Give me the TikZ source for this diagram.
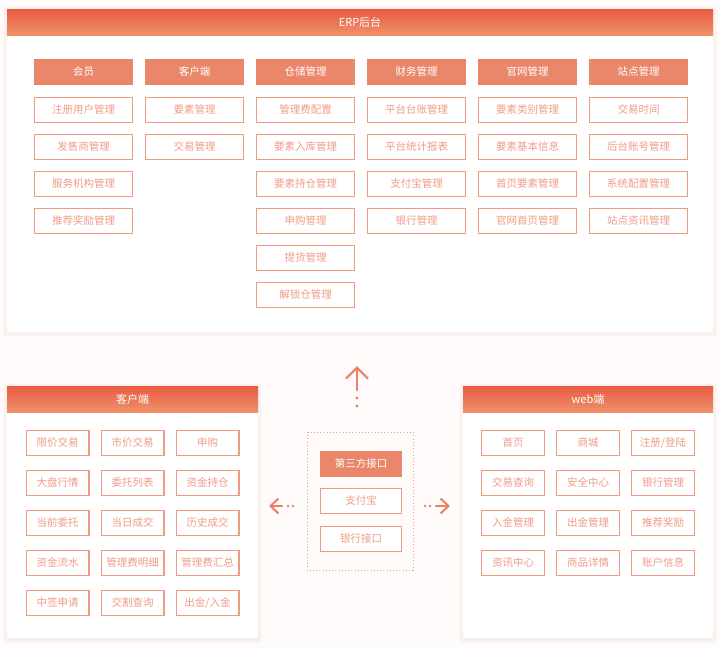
\documentclass[tikz,border=0pt]{standalone}
\usepackage{fontspec}
\setmainfont{Noto Sans CJK SC}
\usetikzlibrary{arrows.meta}
\definecolor{bgc}{HTML}{FEFBFA}
\definecolor{shc}{HTML}{F6EAE4}
\definecolor{toptc}{HTML}{E85B42}
\definecolor{botc}{HTML}{EF9169}
\definecolor{hdrc}{HTML}{EA866A}
\definecolor{boxc}{HTML}{F09A82}
\definecolor{txtc}{HTML}{EF9C88}
\definecolor{arrc}{HTML}{EC8062}
\tikzset{
  panel/.style={fill=white, draw=none},
  glow/.style={fill=shc, draw=none, opacity=0.22},
  hdr/.style={fill=hdrc, text=white, minimum width=99pt, minimum height=26pt, inner sep=0pt, text height=8.5pt, text depth=1.5pt, font=\fontsize{10.5}{12}\selectfont},
  item/.style={draw=boxc, line width=1.2pt, fill=white, text=txtc, minimum width=97.8pt, minimum height=24.8pt, inner sep=0pt, text height=8.5pt, text depth=1.5pt, font=\fontsize{10.5}{12}\selectfont},
  sitem/.style={item, minimum width=62.8pt},
  mitem/.style={item, minimum width=80.8pt},
  ptitle/.style={text=white, font=\fontsize{11}{13}\selectfont, inner sep=0pt},
  arr/.style={draw=arrc, line width=2.2pt, line cap=round},
  dotm/.style={fill=arrc, draw=none}
}
\newcommand{\softpanel}[4]{%
  \foreach \e in {4,3,2,1}{\fill[glow] ({#1-\e},{#2-\e+1}) rectangle ({#3+\e},{#4+\e+1});}
  \fill[panel] (#1,#2) rectangle (#3,#4);
}
\begin{document}
\begin{tikzpicture}[x=1pt, y=-1pt]
\useasboundingbox (0,0) rectangle (720,648);
\fill[bgc] (0,0) rectangle (720,648);
% ===== top panel =====
\softpanel{7}{9}{713}{332}
\shade[top color=toptc, bottom color=botc] (7,9) rectangle (713,35);
\node[ptitle] (erp) at (360,22) {ERP后台};
\foreach \i/\h in {1/会员,2/客户端,3/仓储管理,4/财务管理,5/官网管理,6/站点管理}{
  \node[hdr] (h\i) at ({83.5+111*(\i-1)},72) {\h};
}
\foreach \j/\t in {1/注册用户管理,2/发售商管理,3/服务机构管理,4/推荐奖励管理}
  \node[item] (a1r\j) at (83.5,{110+37*(\j-1)}) {\t};
\foreach \j/\t in {1/要素管理,2/交易管理}
  \node[item] (a2r\j) at (194.5,{110+37*(\j-1)}) {\t};
\foreach \j/\t in {1/管理费配置,2/要素入库管理,3/要素持仓管理,4/申购管理,5/提货管理,6/解锁仓管理}
  \node[item] (a3r\j) at (305.5,{110+37*(\j-1)}) {\t};
\foreach \j/\t in {1/平台台账管理,2/平台统计报表,3/支付宝管理,4/银行管理}
  \node[item] (a4r\j) at (416.5,{110+37*(\j-1)}) {\t};
\foreach \j/\t in {1/要素类别管理,2/要素基本信息,3/首页要素管理,4/官网首页管理}
  \node[item] (a5r\j) at (527.5,{110+37*(\j-1)}) {\t};
\foreach \j/\t in {1/交易时间,2/后台账号管理,3/系统配置管理,4/站点资讯管理}
  \node[item] (a6r\j) at (638.5,{110+37*(\j-1)}) {\t};
% ===== bottom left panel =====
\softpanel{7}{386}{258}{638}
\shade[top color=toptc, bottom color=botc] (7,386) rectangle (258,412);
\node[ptitle] (kh) at (132.5,399) {客户端};
\foreach \t [count=\k from 0] in {限价交易,市价交易,申购,大盘行情,委托列表,资金持仓,当前委托,当日成交,历史成交,资金流水,管理费明细,管理费汇总,中签申请,交割查询,出金/入金}{
  \pgfmathtruncatemacro{\c}{mod(\k,3)}
  \pgfmathtruncatemacro{\r}{div(\k,3)}
  \node[sitem] (l\k) at ({57.5+75*\c},{443+40*\r}) {\t};
}
% ===== bottom right panel =====
\softpanel{463}{386}{713}{638}
\shade[top color=toptc, bottom color=botc] (463,386) rectangle (713,412);
\node[ptitle] (web) at (588,399) {web端};
\foreach \t [count=\k from 0] in {首页,商城,注册/登陆,交易查询,安全中心,银行管理,入金管理,出金管理,推荐奖励,资讯中心,商品详情,账户信息}{
  \pgfmathtruncatemacro{\c}{mod(\k,3)}
  \pgfmathtruncatemacro{\r}{div(\k,3)}
  \node[sitem] (r\k) at ({513+75*\c},{443+40*\r}) {\t};
}
% ===== middle =====
\draw[boxc, line width=1pt, dash pattern=on 1pt off 2.2pt] (307,432) rectangle (413,570);
\node[hdr, minimum width=82pt] (m1) at (361,464) {第三方接口};
\node[mitem] (m2) at (361,501) {支付宝};
\node[mitem] (m3) at (361,539) {银行接口};
% ===== arrows =====
\coordinate (upS) at (357,390);
\coordinate (upT) at (357,366);
\draw[arr, -{Straight Barb[length=11pt, width=22pt, line width=2.2pt]}] (upS) -- (upT);
\fill[dotm] (357,398) circle (1.6);
\fill[dotm] (357,406) circle (1.6);
\coordinate (lfS) at (282,506);
\coordinate (lfT) at (269,506);
\draw[arr, -{Straight Barb[length=8pt, width=15pt, line width=2pt]}] (lfS) -- (lfT);
\fill[dotm] (288,506) circle (1.4);
\fill[dotm] (293,506) circle (1.4);
\coordinate (rtS) at (436,506);
\coordinate (rtT) at (450,506);
\draw[arr, -{Straight Barb[length=8pt, width=15pt, line width=2pt]}] (rtS) -- (rtT);
\fill[dotm] (425,506) circle (1.4);
\fill[dotm] (430,506) circle (1.4);
\end{tikzpicture}
\end{document}
